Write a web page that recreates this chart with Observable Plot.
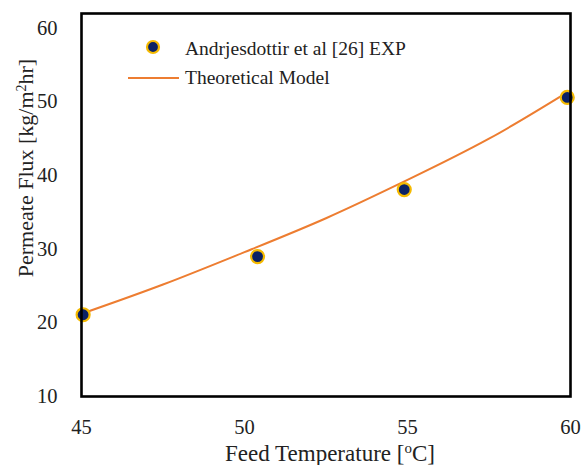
<!DOCTYPE html>
<html><head><meta charset="utf-8">
<script src="https://cdn.jsdelivr.net/npm/d3@7"></script>
<script src="https://cdn.jsdelivr.net/npm/@observablehq/plot@0.6"></script>
<style>
body{margin:0;background:#fff;}
</style>
</head><body><div id="chart"></div>
<script>
// Experimental data (Andrjesdottir et al [26])
const expTemp = [45.05, 50.4, 54.9, 59.9];
const expFlux = [21.1, 29.0, 38.1, 50.6];
// Theoretical model curve
const modelTemp = [45.05, 47.5, 50, 52.5, 55, 57.5, 59.9];
const modelFlux = [21.3, 25.2, 29.6, 34.2, 39.4, 45.0, 51.3];
const xTicks = [45, 50, 55, 60];
const yTicks = [10, 20, 30, 40, 50, 60];
const legendLabels = ["Andrjesdottir et al [26] EXP", "Theoretical Model"];

const expData = expTemp.map((t, i) => ({t, f: expFlux[i]}));
const modelData = modelTemp.map((t, i) => ({t, f: modelFlux[i]}));

const W = 587, H = 465;
const mL = 81, mR = 17, mT = 13, mB = 69;

const chart = Plot.plot({
  width: W, height: H,
  marginLeft: mL, marginRight: mR, marginTop: mT, marginBottom: mB,
  style: {fontFamily: "Liberation Serif", fontSize: "20.5px", color: "#222", background: "#fff"},
  x: {domain: [45, 60], ticks: xTicks, tickSize: 0, tickPadding: 23, label: null},
  y: {domain: [10, 62], ticks: yTicks, tickSize: 0, tickPadding: 24, label: null},
  marks: [
    Plot.line(modelData, {x: "t", y: "f", stroke: "#ED7D31", strokeWidth: 2, curve: "natural"}),
    Plot.dot(expData, {x: "t", y: "f", r: 6.5, fill: "#0B2265", stroke: "#F5BA00", strokeWidth: 2.2}),
    Plot.frame({stroke: "#000", strokeWidth: 2.6})
  ]
});
document.getElementById("chart").appendChild(chart);

const svg = d3.select(chart);
// Legend
const lg = svg.append("g").attr("font-family", "Liberation Serif").attr("font-size", 19.5).attr("fill", "#222").attr("text-anchor", "start");
lg.append("circle").attr("cx", 153).attr("cy", 47).attr("r", 6).attr("fill", "#0B2265").attr("stroke", "#F5BA00").attr("stroke-width", 2.2);
lg.append("text").attr("x", 185).attr("y", 55).text(legendLabels[0]);
lg.append("line").attr("x1", 128).attr("x2", 179).attr("y1", 78).attr("y2", 78).attr("stroke", "#ED7D31").attr("stroke-width", 2);
lg.append("text").attr("x", 185).attr("y", 84).text(legendLabels[1]);

// Axis titles
const xt = svg.append("text").attr("x", 330).attr("y", 461).attr("text-anchor", "middle")
  .attr("font-family", "Liberation Serif").attr("font-size", 23).attr("fill", "#222");
xt.append("tspan").text("Feed Temperature [");
xt.append("tspan").attr("baseline-shift", "super").attr("font-size", 15).text("o");
xt.append("tspan").text("C]");

const yt = svg.append("text").attr("transform", "translate(33,168) rotate(-90)").attr("text-anchor", "middle")
  .attr("font-family", "Liberation Serif").attr("font-size", 22).attr("fill", "#222");
yt.append("tspan").text("Permeate Flux [kg/m");
yt.append("tspan").attr("baseline-shift", "super").attr("font-size", 14).text("2");
yt.append("tspan").text("hr]");
</script>
</body></html>
